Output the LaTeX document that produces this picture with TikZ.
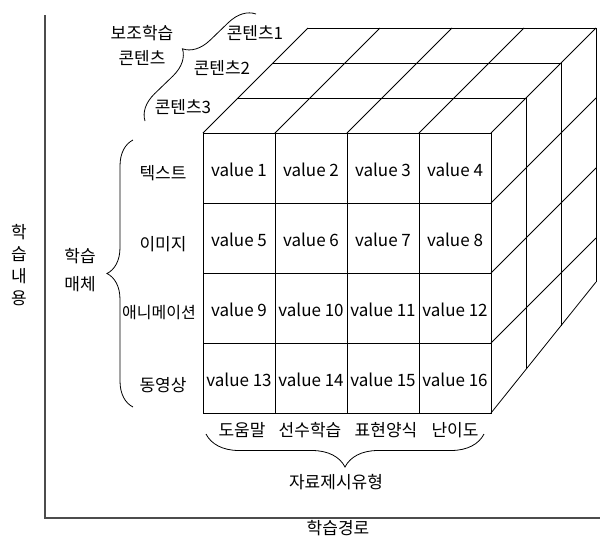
\documentclass[tikz,border=0pt]{standalone}
\usepackage{fontspec}
\setmainfont{Noto Sans CJK KR}
\usetikzlibrary{decorations.pathreplacing}

\tikzset{
  cubeline/.style={line width=0.8pt},
  axisline/.style={line width=1.5pt, black!70},
  curly/.style={decorate, decoration={brace, amplitude=#1}, line width=0.8pt},
  word/.style={font=\fontsize{17}{19}\selectfont, inner sep=1pt},
  cell/.style={font=\fontsize{17}{19}\selectfont, inner sep=1pt},
}

\begin{document}
\begin{tikzpicture}[x=1pt, y=-1pt]

    \useasboundingbox (0,0) rectangle (600,539);

    % Axes
    \coordinate (O) at (45,518);
    \coordinate (Ytop) at (45,15);
    \coordinate (Xend) at (600,518);
    \draw[axisline] (Ytop) -- (O) -- (Xend);

    % Front face of the cube (4 x 4 cells)
    \draw[cubeline] (203,133) rectangle (491,413);
    \draw[cubeline] (275,133) -- (275,413);
    \draw[cubeline] (347,133) -- (347,413);
    \draw[cubeline] (419,133) -- (419,413);
    \draw[cubeline] (203,203) -- (491,203);
    \draw[cubeline] (203,273) -- (491,273);
    \draw[cubeline] (203,343) -- (491,343);

    % Top face (three layers deep)
    \draw[cubeline] (238,98) -- (526,98);
    \draw[cubeline] (273,63) -- (561,63);
    \draw[cubeline] (308,28) -- (596,28);
    \draw[cubeline] (203,133) -- (308,28);
    \draw[cubeline] (275,133) -- (380,28);
    \draw[cubeline] (347,133) -- (452,28);
    \draw[cubeline] (419,133) -- (524,28);
    \draw[cubeline] (491,133) -- (596,28);

    % Right face
    \draw[cubeline] (526,98) -- (526,369);
    \draw[cubeline] (561,63) -- (561,326);
    \draw[cubeline] (596,28) -- (596,282);
    \draw[cubeline] (491,203) -- (596,98);
    \draw[cubeline] (491,273) -- (596,168);
    \draw[cubeline] (491,343) -- (596,238);
    \draw[cubeline] (491,413) -- (596,282);

    % Cell values
    \node[cell] (v1) at (239,170) {value 1};
    \node[cell] (v2) at (311,170) {value 2};
    \node[cell] (v3) at (383,170) {value 3};
    \node[cell] (v4) at (455,170) {value 4};
    \node[cell] (v5) at (239,240) {value 5};
    \node[cell] (v6) at (311,240) {value 6};
    \node[cell] (v7) at (383,240) {value 7};
    \node[cell] (v8) at (455,240) {value 8};
    \node[cell] (v9) at (239,310) {value 9};
    \node[cell] (v10) at (311,310) {value 10};
    \node[cell] (v11) at (383,310) {value 11};
    \node[cell] (v12) at (455,310) {value 12};
    \node[cell] (v13) at (239,380) {value 13};
    \node[cell] (v14) at (311,380) {value 14};
    \node[cell] (v15) at (383,380) {value 15};
    \node[cell] (v16) at (455,380) {value 16};

    % Row labels (learning media)
    \node[word] (rtext) at (163,173) {텍스트};
    \node[word] (rimage) at (163,244) {이미지};
    \node[word, font=\fontsize{16}{18}\selectfont] (ranim) at (159,313) {애니메이션};
    \node[word] (rvideo) at (163,385) {동영상};
    \coordinate (mbot) at (133,407);
    \coordinate (mtop) at (133,140);
    \draw[curly=26] (mbot) -- (mtop);
    \node[word, align=center, font=\fontsize{17}{28}\selectfont] (media) at (80,270) {학습\\매체};

    % Column labels (presentation type)
    \node[word] (chelp) at (242,430) {도움말};
    \node[word] (cprior) at (310,430) {선수학습};
    \node[word] (cform) at (386,430) {표현양식};
    \node[word] (clevel) at (455,430) {난이도};
    \coordinate (tright) at (484,434);
    \coordinate (tleft) at (206,434);
    \draw[curly=33] (tright) -- (tleft);
    \node[word] (ptype) at (336,482) {자료제시유형};

    % Supplementary contents (depth)
    \node[word] (sub1) at (255,33) {콘텐츠1};
    \node[word] (sub2) at (222,68) {콘텐츠2};
    \node[word] (sub3) at (183,107) {콘텐츠3};
    \coordinate (slow) at (145,121);
    \coordinate (shigh) at (256,14);
    \draw[curly=26] (slow) -- (shigh);
    \node[word, align=center, font=\fontsize{17}{25}\selectfont] (extra) at (142,45) {보조학습\\콘텐츠};

    % Axis labels
    \node[word, align=center, font=\fontsize{17}{22}\selectfont] (axcontent) at (19,265) {학\\습\\내\\용};
    \node[word] (axpath) at (338,528) {학습경로};

\end{tikzpicture}
\end{document}
